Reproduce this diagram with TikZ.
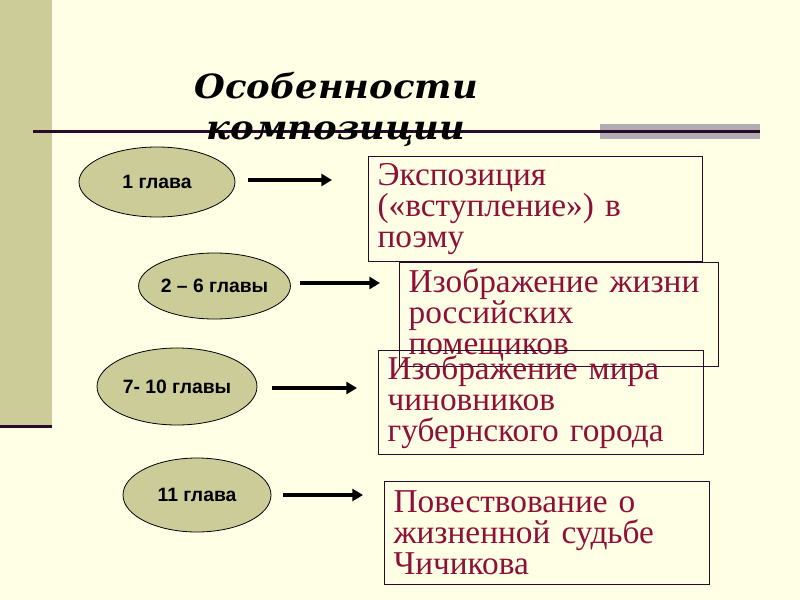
\documentclass[tikz,border=0pt]{standalone}
\usepackage{fontspec}
\setmainfont{Liberation Serif}
\newfontfamily\titlefont{DejaVu Serif}[FakeStretch=1.06]
\newfontfamily\labelfont{Liberation Sans}
\usetikzlibrary{arrows.meta,shapes.geometric}

\definecolor{slidebg}{HTML}{FFFFE5}
\definecolor{khaki}{HTML}{CCCC99}
\definecolor{darkline}{HTML}{2A0A2A}
\definecolor{greybar}{HTML}{B2ABB2}
\definecolor{wine}{HTML}{8E1039}

\tikzset{
  chapter/.style={ellipse,draw=black,line width=0.6pt,fill=khaki,inner sep=0pt,
    font=\labelfont\bfseries\fontsize{14.5}{16}\selectfont},
  descr/.style={rectangle,draw=darkline,line width=0.9pt,anchor=north west,
    inner xsep=6.75pt,inner ysep=0pt,align=left,text=wine,
    font=\fontsize{25}{23.25}\selectfont},
  pointer/.style={-{Triangle[length=8pt,width=9pt]},line width=3pt}
}

\begin{document}
\begin{tikzpicture}[x=0.75pt,y=-0.75pt]
\useasboundingbox[fill=slidebg] (0,0) rectangle (800,600);
% left band and rules
\fill[khaki] (0,0) rectangle (52,425);
\fill[darkline] (0,425) rectangle (52,428);
\fill[greybar] (600,124) rectangle (760,139);
\draw[darkline,line width=1.6pt] (33,131.5) -- (760,131.5);

\node[anchor=north,align=center,inner sep=0pt,
  font=\titlefont\bfseries\itshape\fontsize{25}{31}\selectfont]
  (title) at (336,72) {Особенности\\композиции};

% chapters
\node[chapter,minimum width=117pt,minimum height=52.5pt] (ch1) at (157,182) {1 глава};
\node[chapter,minimum width=108.75pt,minimum height=49.5pt] (ch2) at (214.5,286) {2 – 6 главы};
\node[chapter,minimum width=120pt,minimum height=57.75pt] (ch3) at (177,386.5) {7- 10 главы};
\node[chapter,minimum width=111pt,minimum height=55.5pt] (ch4) at (197,495) {11 глава};

% descriptions
\node[descr,text width=237pt,minimum height=78.75pt] (d1) at (368,156)
  {Экспозиция\\(«вступление») в\\поэму};
\node[descr,text width=225.75pt,minimum height=78pt] (d2) at (399,262)
  {Изображение жизни\\российских\\помещиков};
\node[descr,text width=230.25pt,minimum height=78pt] (d3) at (378,350)
  {Изображение мира\\чиновников\\губернского города};
\node[descr,text width=230.25pt,minimum height=77.25pt] (d4) at (384,481)
  {Повествование о\\жизненной судьбе\\Чичикова};

% arrows
\coordinate (a1) at (248,180);
\coordinate (b1) at (332,180);
\coordinate (a2) at (300,283);
\coordinate (b2) at (380,283);
\coordinate (a3) at (272,388);
\coordinate (b3) at (357,388);
\coordinate (a4) at (283,495);
\coordinate (b4) at (363,495);
\draw[pointer] (a1) -- (b1);
\draw[pointer] (a2) -- (b2);
\draw[pointer] (a3) -- (b3);
\draw[pointer] (a4) -- (b4);
\end{tikzpicture}
\end{document}
